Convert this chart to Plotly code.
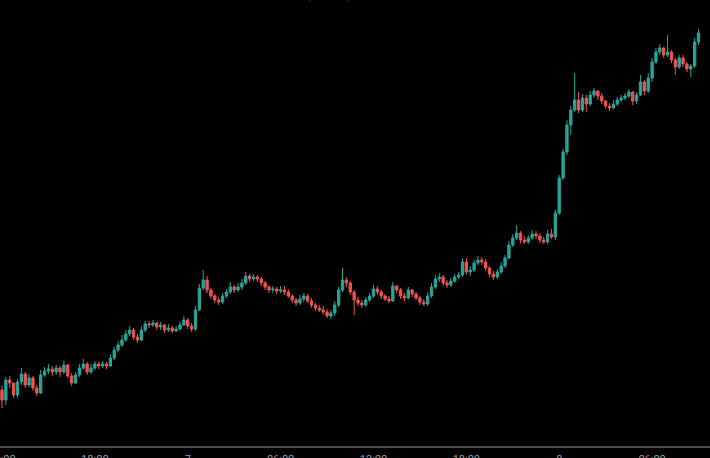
import pandas as pd
import plotly.graph_objects as go

# 15-minute candles, starting 12:00 on day 6
start_time = "2024-01-06 12:00"
n_candles = 181

open_ = [
    56, 46, 66, 63, 51, 64, 72, 61, 68, 58,
    53, 71, 75, 77, 74, 78, 74, 81, 70, 63,
    71, 78, 82, 74, 78, 82, 80, 82, 80, 88,
    96, 101, 106, 112, 116, 109, 106, 116, 122, 121,
    123, 119, 121, 116, 118, 115, 117, 121, 126, 120,
    117, 136, 158, 166, 156, 150, 146, 144, 150, 154,
    159, 156, 159, 163, 170, 167, 169, 167, 163, 159,
    156, 157, 155, 156, 154, 150, 146, 143, 147, 150,
    145, 141, 138, 136, 134, 130, 133, 141, 156, 166,
    163, 154, 146, 143, 141, 146, 150, 157, 154, 150,
    147, 145, 160, 156, 150, 148, 156, 152, 148, 144,
    142, 150, 159, 167, 169, 163, 161, 165, 169, 171,
    184, 174, 176, 183, 186, 184, 178, 172, 169, 174,
    180, 188, 201, 208, 213, 206, 204, 208, 212, 210,
    206, 204, 212, 209, 233, 268, 294, 321, 336, 346,
    336, 348, 342, 351, 355, 350, 345, 340, 338, 342,
    346, 348, 350, 354, 345, 351, 364, 355, 368, 384,
    394, 398, 391, 394, 386, 379, 388, 382, 377, 380,
    404,
]
high = [
    61, 69, 70, 63, 67, 78, 74, 72, 70, 61,
    76, 79, 82, 80, 81, 80, 85, 82, 73, 74,
    82, 87, 84, 82, 85, 84, 85, 84, 92, 99,
    105, 111, 116, 120, 118, 112, 120, 125, 125, 126,
    124, 124, 122, 122, 120, 120, 124, 130, 128, 123,
    140, 162, 176, 170, 158, 152, 149, 153, 157, 164,
    161, 163, 167, 174, 172, 172, 171, 169, 165, 161,
    160, 159, 160, 160, 157, 152, 148, 151, 153, 152,
    148, 143, 141, 140, 137, 136, 145, 159, 178, 169,
    165, 156, 149, 146, 149, 153, 161, 160, 156, 152,
    150, 164, 161, 158, 153, 159, 157, 154, 150, 147,
    154, 163, 171, 173, 171, 166, 168, 172, 174, 188,
    188, 180, 186, 190, 189, 187, 180, 175, 177, 184,
    191, 205, 212, 221, 215, 210, 211, 216, 215, 213,
    209, 216, 217, 236, 271, 297, 326, 340, 373, 354,
    352, 351, 355, 358, 356, 353, 346, 343, 346, 349,
    351, 353, 357, 355, 354, 371, 366, 373, 388, 398,
    402, 399, 411, 396, 388, 391, 391, 384, 382, 408,
    417,
]
low = [
    38, 41, 58, 48, 48, 61, 58, 59, 55, 50,
    52, 69, 72, 70, 71, 69, 72, 68, 60, 62,
    69, 76, 71, 72, 76, 77, 78, 77, 79, 86,
    94, 99, 104, 110, 106, 103, 105, 114, 118, 119,
    116, 116, 113, 114, 113, 114, 116, 120, 117, 114,
    115, 135, 156, 153, 147, 143, 141, 142, 148, 152,
    153, 154, 156, 161, 164, 165, 164, 160, 156, 153,
    153, 152, 153, 151, 148, 143, 140, 141, 144, 143,
    138, 135, 134, 131, 128, 127, 130, 139, 154, 159,
    151, 131, 140, 138, 139, 144, 148, 151, 147, 145,
    143, 144, 153, 147, 145, 147, 149, 146, 141, 140,
    140, 148, 157, 164, 160, 158, 159, 163, 167, 169,
    171, 170, 174, 181, 181, 175, 169, 166, 167, 172,
    178, 187, 199, 206, 203, 202, 202, 206, 207, 203,
    202, 202, 207, 206, 231, 266, 291, 311, 334, 333,
    334, 334, 340, 348, 346, 342, 337, 335, 337, 340,
    344, 346, 348, 341, 342, 350, 351, 353, 364, 382,
    391, 388, 389, 383, 371, 377, 379, 374, 369, 378,
    401,
]
close = [
    46, 66, 63, 51, 64, 72, 61, 68, 58, 53,
    71, 75, 77, 74, 78, 74, 81, 70, 63, 71,
    78, 82, 74, 78, 82, 80, 82, 80, 88, 96,
    101, 106, 112, 116, 109, 106, 116, 122, 121, 123,
    119, 121, 116, 118, 115, 117, 121, 126, 120, 117,
    136, 158, 166, 156, 150, 146, 144, 150, 154, 159,
    156, 159, 163, 170, 167, 169, 167, 163, 159, 156,
    157, 155, 156, 154, 150, 146, 143, 147, 150, 145,
    141, 138, 136, 134, 130, 133, 141, 156, 166, 163,
    154, 146, 143, 141, 146, 150, 157, 154, 150, 147,
    145, 160, 156, 150, 148, 156, 152, 148, 144, 142,
    150, 159, 167, 169, 163, 161, 165, 169, 171, 184,
    174, 176, 183, 186, 184, 178, 172, 169, 174, 180,
    188, 201, 208, 213, 206, 204, 208, 212, 210, 206,
    204, 212, 209, 233, 268, 294, 321, 336, 346, 336,
    348, 342, 351, 355, 350, 345, 340, 338, 342, 346,
    348, 350, 354, 345, 351, 364, 355, 368, 384, 394,
    398, 391, 394, 386, 379, 388, 382, 377, 380, 404,
    413,
]

tick_vals = [
    "2024-01-06 12:00", "2024-01-06 18:00", "2024-01-07 00:00", "2024-01-07 06:00",
    "2024-01-07 12:00", "2024-01-07 18:00", "2024-01-08 00:00", "2024-01-08 06:00",
]
tick_text = ["12:00", "18:00", "7", "06:00", "12:00", "18:00", "8", "06:00"]

times = pd.date_range(start_time, periods=n_candles, freq="15min")

UP = "#26a69a"
DOWN = "#ef5350"

fig = go.Figure(
    go.Candlestick(
        x=times, open=open_, high=high, low=low, close=close,
        increasing=dict(line=dict(color=UP, width=1), fillcolor=UP),
        decreasing=dict(line=dict(color=DOWN, width=1), fillcolor=DOWN),
        showlegend=False,
        hoverinfo="x+y",
    )
)

fig.update_layout(
    width=710, height=458,
    margin=dict(l=0, r=0, t=0, b=12),
    paper_bgcolor="#000000",
    plot_bgcolor="#000000",
    boxgap=0.15,
    xaxis=dict(
        range=["2024-01-06 11:52:15", "2024-01-08 09:44:30"],
        rangeslider=dict(visible=False),
        automargin=False,
        showgrid=False, zeroline=False,
        showline=True, linecolor="#4a4a4a", linewidth=1.5,
        tickmode="array", tickvals=tick_vals, ticktext=tick_text,
        ticks="", ticklabelstandoff=2, ticklabeloverflow="allow",
        tickfont=dict(family="Roboto, sans-serif", size=11, color="#9a9da6"),
    ),
    yaxis=dict(
        range=[0, 446],
        showgrid=False, zeroline=False, showticklabels=False, showline=False,
    ),
    annotations=[
        dict(text="BTCUSD", xref="paper", yref="paper", x=0, y=1,
             xanchor="left", yanchor="bottom", yshift=-4, showarrow=False,
             font=dict(family="Roboto, sans-serif", size=11, color="#6b6b6b")),
        dict(text="O 41250.5  H 41310.0  L 41220.0  C 41300.5  +50.0 (+0.12%)",
             xref="paper", yref="paper", x=0.075, y=1,
             xanchor="left", yanchor="bottom", yshift=-4, showarrow=False,
             font=dict(family="Roboto, sans-serif", size=11, color="#1d5a50")),
    ],
)

fig.write_html(
    "out.html",
    config={"displayModeBar": False},
    post_script="document.body.style.margin='0';document.body.style.background='#000';",
)
